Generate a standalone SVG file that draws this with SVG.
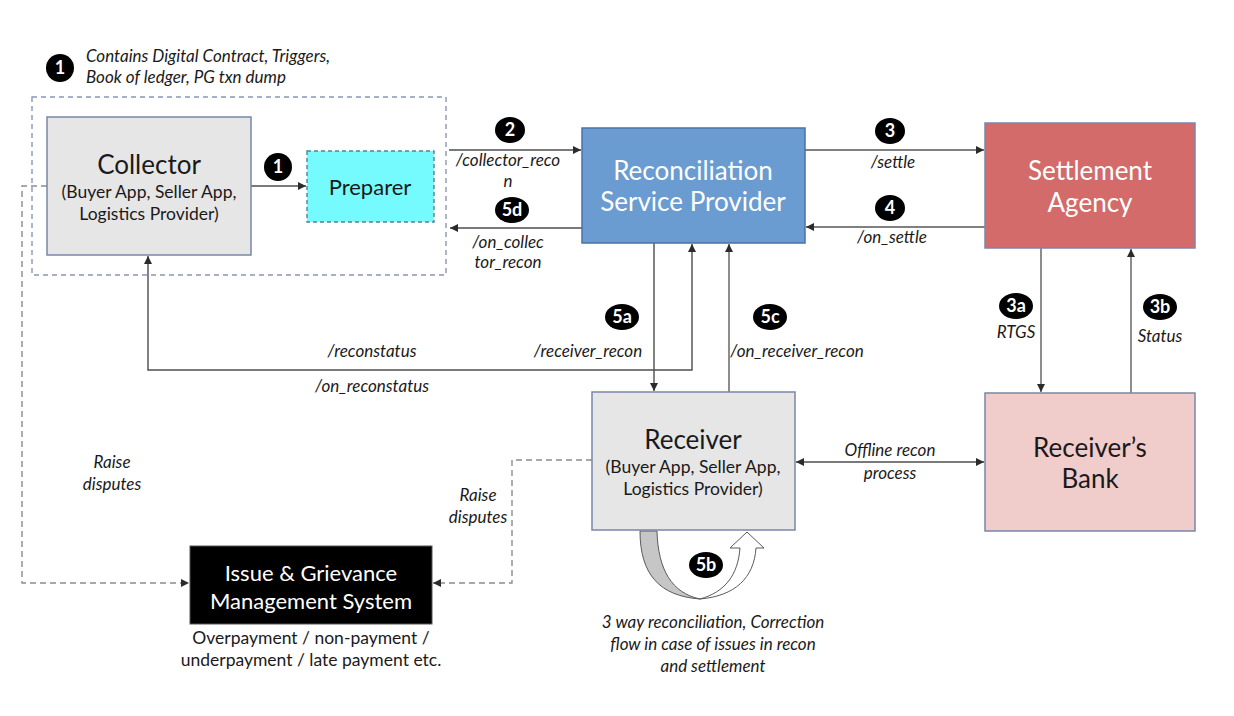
<svg xmlns="http://www.w3.org/2000/svg" width="1234" height="716" viewBox="0 0 1234 716">
<defs>
<style>
text{font-family:Lato,"Open Sans","Liberation Sans",sans-serif;fill:#1a1a1a;text-anchor:middle}
.it{font-style:italic;font-size:17px}
.t24{font-size:26px}
.t16{font-size:17.5px}
.w{fill:#ffffff}
.bt{fill:#ffffff;font-weight:bold;font-size:18px}
.ln{fill:none;stroke:#4d4d4d;stroke-width:1.4}
.lg{fill:none;stroke:#808080;stroke-width:1.8}
.ds{fill:none;stroke:#8c8c8c;stroke-width:1.4;stroke-dasharray:6 4}
.bx{stroke:#7886aa;stroke-width:1.5}
</style>
<marker id="ah" viewBox="0 0 10 10" refX="10" refY="5" markerWidth="8" markerHeight="8" markerUnits="userSpaceOnUse" orient="auto-start-reverse">
<path d="M0,0 L10,5 L0,10 z" fill="#2b2b2b"/>
</marker>
</defs>
<rect width="1234" height="716" fill="#ffffff"/>

<g id="container">
<rect x="32" y="97" width="414" height="178" fill="none" stroke="#8a96b8" stroke-width="1.4" stroke-dasharray="5 4"/>
</g>

<g id="note1">
<ellipse cx="60" cy="68" rx="14" ry="14" fill="#000"/>
<text x="60" y="74" class="bt">1</text>
<text x="86" y="62" class="it" style="text-anchor:start">Contains Digital Contract, Triggers,</text>
<text x="86" y="83" class="it" style="text-anchor:start">Book of ledger, PG txn dump</text>
</g>

<g id="connectors">
<line x1="251" y1="186" x2="306" y2="186" class="ln" marker-end="url(#ah)"/>
<line x1="449" y1="150" x2="581" y2="150" class="ln" marker-end="url(#ah)"/>
<line x1="582" y1="228" x2="450" y2="228" class="ln" marker-end="url(#ah)"/>
<line x1="805" y1="150" x2="984" y2="150" class="lg" marker-end="url(#ah)"/>
<line x1="985" y1="227" x2="806" y2="227" class="lg" marker-end="url(#ah)"/>
<line x1="1041" y1="248" x2="1041" y2="392" class="lg" marker-end="url(#ah)"/>
<line x1="1131" y1="393" x2="1131" y2="249" class="lg" marker-end="url(#ah)"/>
<line x1="654" y1="243" x2="654" y2="391" class="ln" marker-end="url(#ah)"/>
<line x1="729" y1="392" x2="729" y2="244" class="lg" marker-end="url(#ah)"/>
<path d="M692,244 L692,370 L148,370 L148,256" class="ln" marker-start="url(#ah)" marker-end="url(#ah)"/>
<line x1="796" y1="462" x2="984" y2="462" class="ln" marker-start="url(#ah)" marker-end="url(#ah)"/>
<path d="M47,186 L22,186 L22,583 L189,583" class="ds" marker-end="url(#ah)"/>
<path d="M592,460 L512,460 L512,583 L433,583" class="ds" marker-end="url(#ah)"/>
<path d="M640,531 L657,531 C658,570 672,593 700,599 C660,596 640,575 640,531 Z" fill="#c6c6c6" stroke="#5a5a5a" stroke-width="1"/>
<path d="M700,599 C735,596 754,578 756,548 L764,548 L747,532 L730,548 L740,548 C738,575 725,592 700,599 Z" fill="#ffffff" stroke="#5a5a5a" stroke-width="1"/>
</g>

<g id="labels">
<ellipse cx="278" cy="167" rx="14" ry="14" fill="#000"/>
<text x="278" y="173" class="bt">1</text>
<ellipse cx="510" cy="130" rx="15" ry="13" fill="#000"/>
<text x="510" y="136" class="bt">2</text>
<text x="508" y="166" class="it">/collector_reco</text>
<text x="508" y="187" class="it">n</text>
<ellipse cx="512" cy="210" rx="17" ry="13" fill="#000"/>
<text x="512" y="216" class="bt">5d</text>
<text x="508" y="248" class="it">/on_collec</text>
<text x="508" y="268" class="it">tor_recon</text>
<ellipse cx="890" cy="131" rx="15" ry="13" fill="#000"/>
<text x="890" y="137" class="bt">3</text>
<text x="893" y="168" class="it">/settle</text>
<ellipse cx="890" cy="208" rx="15" ry="13" fill="#000"/>
<text x="890" y="214" class="bt">4</text>
<text x="892" y="243" class="it">/on_settle</text>
<ellipse cx="1016" cy="306" rx="17" ry="13" fill="#000"/>
<text x="1016" y="312" class="bt">3a</text>
<text x="1016" y="338" class="it">RTGS</text>
<ellipse cx="1160" cy="307" rx="17" ry="13" fill="#000"/>
<text x="1160" y="313" class="bt">3b</text>
<text x="1160" y="342" class="it">Status</text>
<ellipse cx="622" cy="317" rx="17" ry="13" fill="#000"/>
<text x="622" y="323" class="bt">5a</text>
<text x="588" y="357" class="it">/receiver_recon</text>
<ellipse cx="770" cy="317" rx="17" ry="13" fill="#000"/>
<text x="770" y="323" class="bt">5c</text>
<text x="797" y="357" class="it">/on_receiver_recon</text>
<text x="372" y="357" class="it">/reconstatus</text>
<text x="372" y="392" class="it">/on_reconstatus</text>
<text x="890" y="456" class="it">Offline recon</text>
<text x="890" y="479" class="it">process</text>
<text x="112" y="468" class="it">Raise</text>
<text x="112" y="490" class="it">disputes</text>
<text x="478" y="501" class="it">Raise</text>
<text x="478" y="523" class="it">disputes</text>
<ellipse cx="706" cy="565" rx="17" ry="13" fill="#000"/>
<text x="706" y="571" class="bt">5b</text>
<text x="713" y="628" class="it">3 way reconciliation, Correction</text>
<text x="713" y="650" class="it">flow in case of issues in recon</text>
<text x="713" y="672" class="it">and settlement</text>
</g>

<g id="collector">
<rect x="47" y="117" width="204" height="138" fill="#e6e6e6" class="bx"/>
<text x="149" y="174" class="t24">Collector</text>
<text x="149" y="198" class="t16">(Buyer App, Seller App,</text>
<text x="149" y="220" class="t16">Logistics Provider)</text>
</g>

<g id="preparer">
<rect x="307" y="151" width="127" height="71" fill="#75fbfd" stroke="#3f8a9a" stroke-width="1.4" stroke-dasharray="4 3"/>
<text x="370" y="195" style="font-size:22px">Preparer</text>
</g>

<g id="rsp">
<rect x="582" y="128" width="223" height="115" fill="#6a9bd1" stroke="#4a72a8" stroke-width="1.5"/>
<text x="693" y="180" class="t24 w">Reconciliation</text>
<text x="693" y="211" class="t24 w">Service Provider</text>
</g>

<g id="settlement">
<rect x="985" y="123" width="210" height="125" fill="#d26b69" class="bx"/>
<text x="1090" y="180" class="t24 w">Settlement</text>
<text x="1090" y="212" class="t24 w">Agency</text>
</g>

<g id="bank">
<rect x="985" y="393" width="210" height="138" fill="#f0cccb" class="bx"/>
<text x="1090" y="457" class="t24">Receiver’s</text>
<text x="1090" y="488" class="t24">Bank</text>
</g>

<g id="receiver">
<rect x="592" y="392" width="203" height="138" fill="#e6e6e6" class="bx"/>
<text x="693" y="449" class="t24">Receiver</text>
<text x="693" y="473" class="t16">(Buyer App, Seller App,</text>
<text x="693" y="495" class="t16">Logistics Provider)</text>
</g>

<g id="igm">
<rect x="190" y="546" width="242" height="78" fill="#000000" stroke="#555" stroke-width="1"/>
<text x="311" y="581" class="w" style="font-size:22px">Issue &amp; Grievance</text>
<text x="311" y="609" class="w" style="font-size:22px">Management System</text>
<text x="311" y="644" class="t16">Overpayment / non-payment /</text>
<text x="311" y="666" class="t16">underpayment / late payment etc.</text>
</g>
</svg>
